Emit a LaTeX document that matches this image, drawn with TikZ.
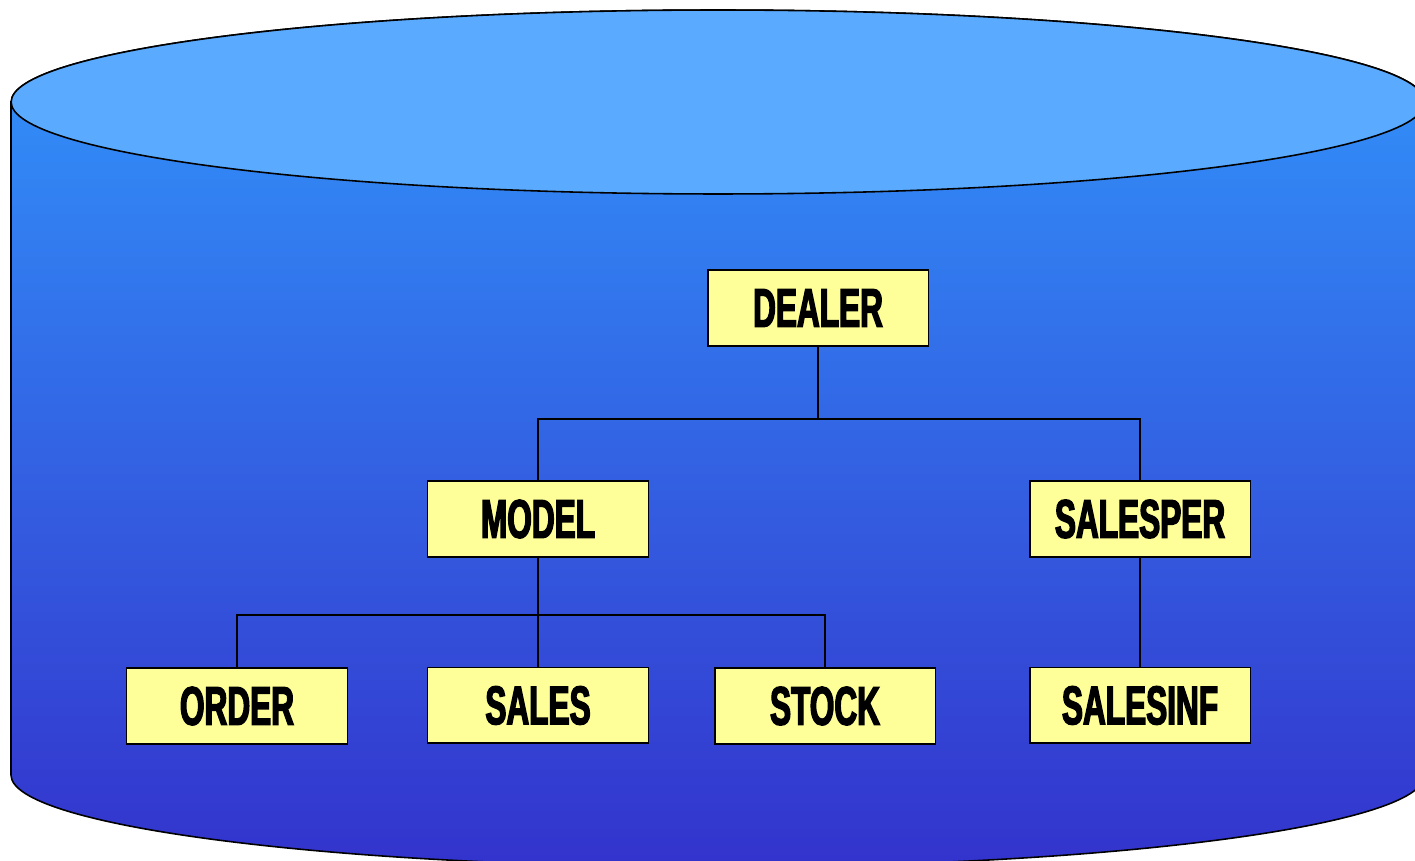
\documentclass[tikz,border=0pt]{standalone}
\usepackage{fontspec}
\usepackage{tikz}
\usetikzlibrary{calc,positioning}
\newfontfamily\boxfont[FakeStretch=0.58,BoldFeatures={FakeBold=2.5}]{Liberation Sans}
\definecolor{drumtop}{RGB}{90,171,255}
\definecolor{drumhigh}{RGB}{50,150,252}
\definecolor{drumlow}{RGB}{51,51,204}
\definecolor{boxyellow}{RGB}{255,255,153}
\tikzset{%
        x = 0.02cm,
        y = -0.02cm,
        node distance = 3.73cm
}
\tikzstyle{recordbox}=[
    draw = black,
    fill = boxyellow,
    line width = 1.1pt,
    minimum width = 4.42cm,
    minimum height = 1.52cm,
    inner sep = 0pt,
    font = \boxfont\bfseries\fontsize{31}{31}\selectfont
]
\tikzstyle{link}=[
    draw = black,
    line width = 0.9pt
]
\begin{document}
\begin{tikzpicture}
        \useasboundingbox (0,0) rectangle (1415,861);
        \clip (0,0) rectangle (1415,861);
        % drum
        \shade[top color=drumhigh, bottom color=drumlow, draw=black, line width=0.9pt]
          (11,102) -- (11,775)
          arc[start angle=180, end angle=360, x radius=14.14cm, y radius=1.84cm]
          -- (1425,102)
          arc[start angle=0, end angle=180, x radius=14.14cm, y radius=1.84cm] -- cycle;
        \draw[fill=drumtop, line width=0.9pt] (718,102) ellipse[x radius=14.14cm, y radius=1.84cm];
        % hierarchy
        \node[recordbox] (dealer) at (818,308) {DEALER};
        \node[recordbox] (model) at (538,519) {MODEL};
        \node[recordbox] (salesper) at (1140,519) {SALESPER};
        \node[recordbox] (order) at (237,706) {ORDER};
        \node[recordbox] (sales) [below of=model] {SALES};
        \node[recordbox] (stock) at (825,706) {STOCK};
        \node[recordbox] (salesinf) [below of=salesper] {SALESINF};
        \coordinate (split1) at (dealer |- 0,419);
        \coordinate (split2) at (model |- 0,615);
        \path[link] (dealer) -- (split1);
        \path[link] (model.north) |- (split1) -| (salesper.north);
        \path[link] (model) -- (split2);
        \path[link] (order.north) |- (split2) -| (stock.north);
        \path[link] (split2) -- (sales);
        \path[link] (salesper) -- (salesinf);
    \end{tikzpicture}
\end{document}
